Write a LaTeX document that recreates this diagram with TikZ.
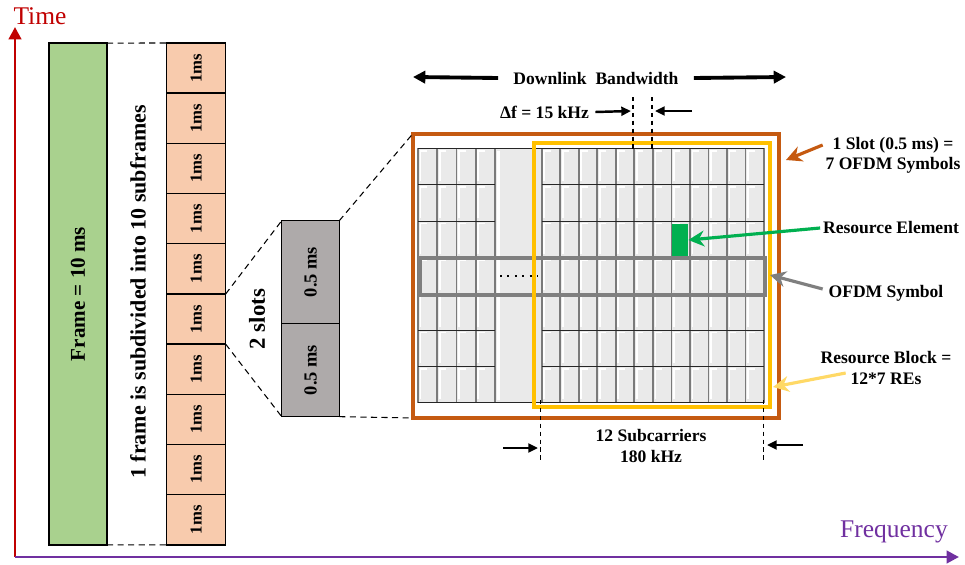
\documentclass[tikz,border=0pt]{standalone}
\usepackage{fontspec}
\setmainfont{Liberation Serif}
\usepackage{graphicx}
\usepackage{tikz}
\usetikzlibrary{arrows.meta, positioning, calc}

\definecolor{axisred}{HTML}{C00000}
\definecolor{axispurple}{HTML}{7030A0}
\definecolor{framegreen}{HTML}{A9D18E}
\definecolor{subpeach}{HTML}{F8CBAD}
\definecolor{slotgray}{HTML}{AEAAAA}
\definecolor{slotorange}{HTML}{C55A11}
\definecolor{rbyellow}{HTML}{FFC000}
\definecolor{rblight}{HTML}{FFD966}
\definecolor{regreen}{HTML}{00B050}
\definecolor{symgray}{HTML}{7F7F7F}
\definecolor{cellfill}{HTML}{EAEAEA}
\definecolor{gridline}{HTML}{7A7A7A}

\begin{document}
\begin{tikzpicture}[
        x=0.02cm, y=-0.02cm,
        axisline/.style={
            line width=1.7pt,
            -{Triangle[length=7pt, width=7pt]}
        },
        axistext/.style={
            font=\fontsize{14.5}{16}\selectfont,
            inner sep=1pt
        },
        framebox/.style={
            draw,
            line width=0.8pt,
            fill=framegreen,
            minimum width=1.16cm,
            minimum height=10.04cm,
            inner sep=0pt,
            outer sep=0pt,
            font=\bfseries\fontsize{12}{14}\selectfont
        },
        subframe/.style={
            draw,
            line width=0.8pt,
            fill=subpeach,
            minimum width=1.18cm,
            minimum height=1.004cm,
            inner sep=0pt,
            outer sep=0pt,
            font=\bfseries\fontsize{9.5}{11}\selectfont
        },
        slotbox/.style={
            draw,
            line width=0.8pt,
            fill=slotgray,
            minimum width=1.152cm,
            inner sep=0pt,
            outer sep=0pt,
            font=\bfseries\fontsize{10.5}{12}\selectfont
        },
        outline/.style={
            line width=2.3pt,
            minimum width=#1,
            inner sep=0pt,
            outer sep=0pt
        },
        zoomline/.style={
            line width=0.6pt,
            dash pattern=on 3.5pt off 2.5pt
        },
        marker/.style={
            line width=0.6pt,
            dash pattern=on 2.5pt off 2pt
        },
        gridv/.style={
            gridline,
            line width=1pt
        },
        gridh/.style={
            black!85,
            line width=0.5pt
        },
        note/.style={
            font=\bfseries\fontsize{10}{11.5}\selectfont,
            align=center,
            inner sep=1.5pt
        },
        callout/.style={
            line width=1.8pt,
            -{Stealth[length=9pt, width=9pt]}
        },
        spanarrow/.style={
            line width=2.2pt,
            -{Triangle[length=7pt, width=7pt]}
        },
        gaparrow/.style={
            line width=1.4pt,
            -{Triangle[length=5.5pt, width=5pt]}
        }
    ]

        \useasboundingbox (0,0) rectangle (965,565);

        % ---------------------------------------------------------------------
        % Axes
        % ---------------------------------------------------------------------

        \coordinate (origin) at (15,557);
        \coordinate (timeend) at (15,27);
        \coordinate (freqend) at (959,557);

        \draw[axisline, axisred] (origin) -- (timeend);
        \draw[axisline, axispurple] (origin) -- (freqend);

        \node[axistext, axisred] (timelbl) at (40,16) {Time};
        \node[axistext, axispurple] (freqlbl) at (894,532) {Frequency};

        % ---------------------------------------------------------------------
        % Frame and subframes
        % ---------------------------------------------------------------------

        \node[framebox] (frame10) at (78,294) {\rotatebox{90}{Frame = 10 ms}};

        \node[
            font=\bfseries\fontsize{12.5}{14}\selectfont,
            rotate=90
        ] (splitlbl) at (138,292) {1 frame is subdivided into 10 subframes};

        \node[subframe] (sf1) at (196.2,68.1) {\rotatebox{90}{1ms}};
        \foreach \i [remember=\i as \prev (initially 1)] in {2,...,10}
            \node[subframe, below=0pt of sf\prev] (sf\i) {\rotatebox{90}{1ms}};

        \draw[zoomline] (frame10.north east) -- (sf1.north west);
        \draw[zoomline] (frame10.south east) -- (sf10.south west);

        % ---------------------------------------------------------------------
        % Two slots of one subframe
        % ---------------------------------------------------------------------

        \node[slotbox, minimum height=2.052cm] (slot1) at (310.5,272) {\rotatebox{90}{0.5 ms}};
        \node[slotbox, minimum height=1.868cm, below=0pt of slot1] (slot2) {\rotatebox{90}{0.5 ms}};

        \node[
            font=\bfseries\fontsize{13}{15}\selectfont,
            rotate=90
        ] (slotcount) at (257,319) {2 slots};

        \draw[zoomline] (sf6.north east) -- (slot1.north west);
        \draw[zoomline] (sf6.south east) -- (slot2.south west);

        % ---------------------------------------------------------------------
        % Resource grid
        % ---------------------------------------------------------------------

        \fill[cellfill] (418,148.3) rectangle (764,402.7);

        \foreach \c in {0,...,3}
            \foreach \r in {0,...,6}
                \draw[white, line width=1pt]
                    ({418+19.25*\c+2.5},{148.3+36.34*\r+33}) |- ({418+19.25*\c+9},{148.3+36.34*\r+2.5});
        \foreach \c in {0,...,11}
            \foreach \r in {0,...,6}
                \draw[white, line width=1pt]
                    ({541.7+18.53*\c+2.5},{148.3+36.34*\r+33}) |- ({541.7+18.53*\c+9},{148.3+36.34*\r+2.5});
        \draw[white, line width=1.2pt] (498.5,151) -- (498.5,400);

        \foreach \c in {0,...,4}
            \draw[gridv] ({418+19.25*\c},148.3) -- ({418+19.25*\c},402.7);
        \foreach \c in {0,...,12}
            \draw[gridv] ({541.7+18.53*\c},148.3) -- ({541.7+18.53*\c},402.7);
        \foreach \r in {1,...,6} {
            \draw[gridh] (418,{148.3+36.34*\r}) -- (495,{148.3+36.34*\r});
            \draw[gridh] (541.7,{148.3+36.34*\r}) -- (764,{148.3+36.34*\r});
        }
        \draw[gridh] (418,148.3) -- (764,148.3);
        \draw[gridh] (418,402.7) -- (764,402.7);

        \draw[line width=1.2pt, dash pattern=on 1.2pt off 3pt] (500,276) -- (537,276);

        \node[fill=regreen, minimum width=0.32cm, minimum height=0.64cm, inner sep=0pt] (recell) at (680,240) {};

        \node[outline=6.9cm, draw=symgray, minimum height=0.74cm] (symrow) at (592.5,276.5) {};
        \node[outline=4.73cm, draw=rbyellow, minimum height=5.3cm] (rbbox) at (651.75,275) {};
        \node[outline=7.33cm, draw=slotorange, minimum height=5.68cm] (slotframe) at (595.75,276) {};

        \draw[zoomline] (slot1.north east) -- (slotframe.north west);
        \draw[zoomline] (slot2.south east) -- (slotframe.south west);

        % ---------------------------------------------------------------------
        % Bandwidth and spacing marks
        % ---------------------------------------------------------------------

        \node[note, inner xsep=8.5pt] (bwlbl) at (596,78) {Downlink\ \ Bandwidth};
        \coordinate (bwleft) at (413,77);
        \coordinate (bwright) at (786,77);
        \draw[spanarrow] (bwlbl.west) -- (bwleft);
        \draw[spanarrow] (bwlbl.east) -- (bwright);

        \draw[marker] (633,97) -- (633,149);
        \draw[marker] (652,97) -- (652,149);

        \node[note, inner xsep=3.5pt] (dflbl) at (544.5,112) {Δf = 15 kHz};
        \coordinate (dfinl) at (631,111);
        \coordinate (dfoutr) at (692,111);
        \coordinate (dfinr) at (655,111);
        \draw[gaparrow] (dflbl.east) -- (dfinl);
        \draw[gaparrow] (dfoutr) -- (dfinr);

        \draw[marker] (540.5,400) -- (540.5,460);
        \draw[marker] (763.5,400) -- (763.5,460);

        \node[note] (sclbl) at (651,446) {12 Subcarriers\\180 kHz};
        \coordinate (scoutl) at (503,448);
        \coordinate (scinl) at (538,448);
        \coordinate (scoutr) at (803,445);
        \coordinate (scinr) at (767,445);
        \draw[gaparrow] (scoutl) -- (scinl);
        \draw[gaparrow] (scoutr) -- (scinr);

        % ---------------------------------------------------------------------
        % Callouts
        % ---------------------------------------------------------------------

        \node[note] (slotlbl) at (893,155) {1 Slot (0.5 ms) =\\7 OFDM Symbols};
        \node[note] (relbl) at (891,228) {Resource Element};
        \node[note] (symlbl) at (886,293) {OFDM Symbol};
        \node[note] (rblbl) at (886,368) {Resource Block =\\12*7 REs};

        \coordinate (slottip) at (786,160);
        \coordinate (symtip) at (770,275);
        \coordinate (rbtip) at (773,387);

        \draw[callout, slotorange] ($(slotlbl.west)+(0,-10)$) -- (slottip);
        \draw[callout, regreen] (relbl.west) -- (recell.east);
        \draw[callout, symgray] ($(symlbl.west)+(-3,-4)$) -- (symtip);
        \draw[callout, rblight] ($(rblbl.west)+(28,5)$) -- (rbtip);

    \end{tikzpicture}
\end{document}
